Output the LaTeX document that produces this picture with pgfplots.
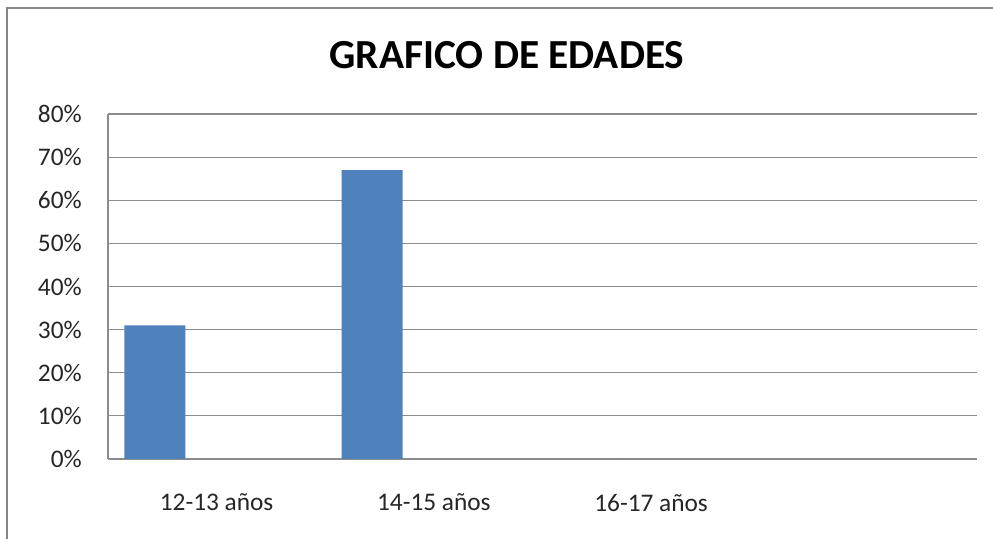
\documentclass[border=0pt]{standalone}
\usepackage{pgfplots}
\pgfplotsset{compat=1.18}
\usepackage{fontspec}
\setmainfont{Carlito}
\definecolor{barblue}{RGB}{79,129,189}
\definecolor{gridgray}{RGB}{140,140,140}
\definecolor{framegray}{RGB}{134,134,134}
\begin{document}
\begin{tikzpicture}
% picture area = 993 x 539 px at 0.75pt per px
\clip (0,0) rectangle (744.75pt,404.25pt);
\fill[white] (0,0) rectangle (744.75pt,404.25pt);
\draw[framegray, line width=1.6pt] (5.3pt,-20pt) -- (5.3pt,398.25pt) -- (760pt,398.25pt);
\node[anchor=base, font=\fontsize{31}{36}\selectfont\bfseries] at (380.25pt,352.5pt) {GRAFICO DE EDADES};
\begin{axis}[
    at={(81pt,60pt)}, anchor=south west,
    width=651.75pt, height=258.75pt, scale only axis,
    xmin=-0.5, xmax=3.5,
    ymin=0, ymax=80,
    xtick={0,1,2},
    xticklabels={12-13 años, 14-15 años, 16-17 años},
    ytick={0,10,...,80},
    yticklabels={0\%,10\%,20\%,30\%,40\%,50\%,60\%,70\%,80\%},
    axis lines*=left,
    axis line style={gridgray, line width=0.8pt},
    ymajorgrids,
    major grid style={gridgray, line width=0.8pt},
    major tick length=0pt,
    tick label style={font=\fontsize{19}{22}\selectfont, text=black!85},
    yticklabel style={anchor=east, inner sep=0pt, xshift=-19.5pt},
    xticklabel style={anchor=north, inner sep=0pt, yshift=-26pt},
    ybar, bar width=45.75pt, bar shift=-46.3pt,
    clip=false,
]
\addplot[fill=barblue, draw=none] coordinates {(0,31) (1,67) (2,0)};
\end{axis}
\end{tikzpicture}
\end{document}
